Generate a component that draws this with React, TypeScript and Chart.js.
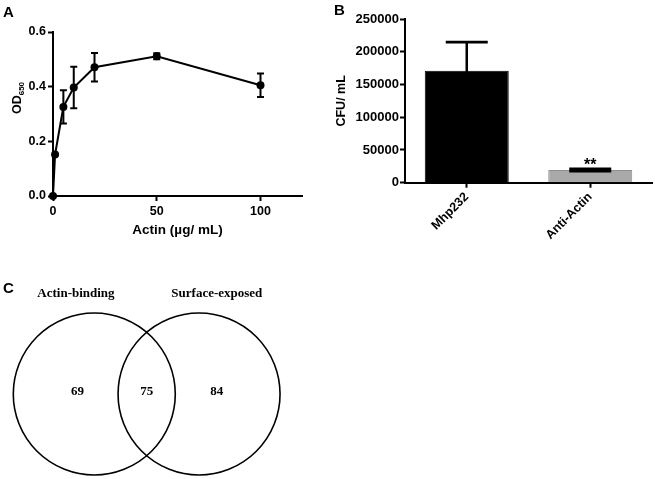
import React, { useEffect, useRef } from "react";
import { Chart, registerables } from "chart.js";

Chart.register(...registerables);

// ---------- Panel A data ----------
const actinConc = [0, 1, 5, 10, 20, 50, 100];
const od650Mean = [0, 0.152, 0.326, 0.397, 0.471, 0.511, 0.405];
const od650Err = [0, 0, 0.061, 0.076, 0.052, 0.011, 0.043];
const odTicks = [0, 0.2, 0.4, 0.6];
const concTicks = [0, 50, 100];

// ---------- Panel B data ----------
const strains = ["Mhp232", "Anti-Actin"];
const cfuMean = [171000, 19500];
const cfuErr = [43500, 1700];
const cfuTicks = [0, 50000, 100000, 150000, 200000, 250000];
const significance = ["", "**"];

// ---------- Panel C data ----------
const vennSets = ["Actin-binding", "Surface-exposed"];
const vennCounts = [69, 75, 84]; // only left, both, only right

const SANS = '"Liberation Sans", Arial, Helvetica, sans-serif';
const SERIF = '"Liberation Serif", "Times New Roman", Times, serif';

const W_A = 330, H_A = 270;
const W_B = 325, H_B = 280;
const W_C = 330, H_C = 209;

function panelLetter(letter: string, x: number, y: number) {
  return {
    id: "letter" + letter,
    afterDraw(chart: any) {
      const ctx = chart.ctx;
      ctx.save();
      ctx.fillStyle = "#000";
      ctx.font = `bold 15px ${SANS}`;
      ctx.textAlign = "left";
      ctx.textBaseline = "alphabetic";
      ctx.fillText(letter, x, y);
      ctx.restore();
    },
  };
}

const axisCommon = {
  grid: {
    display: true,
    drawOnChartArea: false,
    drawTicks: true,
    tickLength: 5,
    tickWidth: 2,
    tickColor: "#000",
  },
  border: { display: true, color: "#000", width: 2 },
};

export default function App() {
  const refA = useRef<HTMLCanvasElement>(null);
  const refB = useRef<HTMLCanvasElement>(null);
  const refC = useRef<HTMLCanvasElement>(null);

  useEffect(() => {
    const charts: Chart[] = [];

    // ---------------- Panel A ----------------
    const errorBarsA = {
      id: "errorBarsA",
      afterDatasetsDraw(chart: any) {
        const { ctx } = chart;
        const xs = chart.scales.x, ys = chart.scales.y;
        ctx.save();
        ctx.strokeStyle = "#000";
        ctx.lineWidth = 2;
        actinConc.forEach((c, i) => {
          const e = od650Err[i];
          if (!e) return;
          const px = xs.getPixelForValue(c);
          const yt = ys.getPixelForValue(od650Mean[i] + e);
          const yb = ys.getPixelForValue(od650Mean[i] - e);
          ctx.beginPath();
          ctx.moveTo(px, yt); ctx.lineTo(px, yb);
          ctx.moveTo(px - 3.5, yt); ctx.lineTo(px + 3.5, yt);
          ctx.moveTo(px - 3.5, yb); ctx.lineTo(px + 3.5, yb);
          ctx.stroke();
        });
        ctx.restore();
      },
    };
    const yTitleA = {
      id: "yTitleA",
      afterDraw(chart: any) {
        const { ctx, chartArea } = chart;
        ctx.save();
        ctx.fillStyle = "#000";
        ctx.translate(21, chartArea.top + 66);
        ctx.rotate(-Math.PI / 2);
        ctx.textAlign = "left";
        ctx.textBaseline = "alphabetic";
        ctx.font = `bold 12.5px ${SANS}`;
        const wOD = ctx.measureText("OD").width;
        ctx.font = `bold 8px ${SANS}`;
        const wSub = ctx.measureText("650").width;
        const start = -(wOD + wSub) / 2;
        ctx.font = `bold 12.5px ${SANS}`;
        ctx.fillText("OD", start, 0);
        ctx.font = `bold 8px ${SANS}`;
        ctx.fillText("650", start + wOD, 3);
        ctx.restore();
      },
    };

    if (refA.current) {
      charts.push(
        new Chart(refA.current, {
          type: "line",
          data: {
            datasets: [
              {
                data: actinConc.map((x, i) => ({ x, y: od650Mean[i] })),
                borderColor: "#000",
                backgroundColor: "#000",
                borderWidth: 2,
                pointRadius: 4,
                pointBackgroundColor: "#000",
                pointBorderColor: "#000",
                pointBorderWidth: 0,
                tension: 0,
                clip: false as any,
              },
            ],
          },
          options: {
            responsive: false,
            animation: false,
            events: [],
            layout: { autoPadding: false, padding: { top: 32, right: W_A - 302, left: 0, bottom: 0 } },
            plugins: { legend: { display: false }, tooltip: { enabled: false } },
            scales: {
              x: {
                type: "linear",
                min: 0,
                max: 120,
                afterBuildTicks: (s: any) => {
                  s.ticks = concTicks.map((v) => ({ value: v }));
                },
                afterFit: (s: any) => {
                  s.height = H_A - 196;
                },
                ...axisCommon,
                ticks: {
                  color: "#000",
                  font: { family: SANS, size: 12.5, weight: "bold" },
                  padding: 3,
                  maxRotation: 0,
                },
                title: {
                  display: true,
                  text: "Actin (µg/ mL)",
                  color: "#000",
                  font: { family: SANS, size: 13.5, weight: "bold" },
                  padding: { top: 0, bottom: 32 },
                },
              } as any,
              y: {
                type: "linear",
                min: 0,
                max: 0.6,
                afterBuildTicks: (s: any) => {
                  s.ticks = odTicks.map((v) => ({ value: v }));
                },
                afterFit: (s: any) => {
                  s.width = 53;
                },
                ...axisCommon,
                ticks: {
                  color: "#000",
                  font: { family: SANS, size: 12.5, weight: "bold" },
                  padding: 2,
                  callback: (v: any) => Number(v).toFixed(1),
                },
              } as any,
            },
          },
          plugins: [errorBarsA, yTitleA, panelLetter("A", 3, 16.5)],
        })
      );
    }

    // ---------------- Panel B ----------------
    const errorBarsB = {
      id: "errorBarsB",
      afterDatasetsDraw(chart: any) {
        const { ctx } = chart;
        const ys = chart.scales.y;
        const meta = chart.getDatasetMeta(0);
        ctx.save();
        ctx.strokeStyle = "#000";
        ctx.fillStyle = "#000";
        meta.data.forEach((bar: any, i: number) => {
          const px = bar.x;
          const yt = ys.getPixelForValue(cfuMean[i] + cfuErr[i]);
          const yb = ys.getPixelForValue(cfuMean[i] - cfuErr[i]);
          ctx.lineWidth = 2.5;
          ctx.beginPath();
          ctx.moveTo(px, yt); ctx.lineTo(px, yb);
          ctx.stroke();
          ctx.lineWidth = 2.75;
          ctx.beginPath();
          ctx.moveTo(px - 21, yt); ctx.lineTo(px + 21, yt);
          ctx.moveTo(px - 21, yb); ctx.lineTo(px + 21, yb);
          ctx.stroke();
          if (significance[i]) {
            ctx.font = `bold 16px ${SANS}`;
            ctx.textAlign = "center";
            ctx.textBaseline = "alphabetic";
            ctx.fillText(significance[i], px, yt + 1.5);
          }
        });
        ctx.restore();
      },
    };

    if (refB.current) {
      charts.push(
        new Chart(refB.current, {
          type: "bar",
          data: {
            labels: strains,
            datasets: [
              {
                data: cfuMean,
                backgroundColor: ["#000000", "#a9a9a9"],
                borderColor: ["#000000", "#8e8e8e"],
                borderWidth: 1,
                barPercentage: 0.68,
                categoryPercentage: 1,
              },
            ],
          },
          options: {
            responsive: false,
            animation: false,
            events: [],
            layout: { autoPadding: false, padding: { top: 19, right: 3, left: 0, bottom: 0 } },
            plugins: { legend: { display: false }, tooltip: { enabled: false } },
            scales: {
              x: {
                offset: true,
                afterFit: (s: any) => {
                  s.height = H_B - 182.7;
                },
                ...axisCommon,
                grid: { ...axisCommon.grid, offset: false },
                ticks: {
                  color: "#000",
                  font: { family: SANS, size: 12.5, weight: "bold" },
                  maxRotation: 45,
                  minRotation: 45,
                  padding: 2,
                },
              } as any,
              y: {
                type: "linear",
                min: 0,
                max: 250000,
                afterBuildTicks: (s: any) => {
                  s.ticks = cfuTicks.map((v) => ({ value: v }));
                },
                afterFit: (s: any) => {
                  s.width = 75;
                },
                ...axisCommon,
                ticks: {
                  color: "#000",
                  font: { family: SANS, size: 13, weight: "bold" },
                  padding: 1,
                  callback: (v: any) => String(v),
                },
                title: {
                  display: true,
                  text: "CFU/ mL",
                  color: "#000",
                  font: { family: SANS, size: 12.5, weight: "bold" },
                  padding: { top: 4.5, bottom: 0 },
                },
              } as any,
            },
          },
          plugins: [errorBarsB, panelLetter("B", 4, 15)],
        })
      );
    }

    // ---------------- Panel C ----------------
    const regionPos = [-0.16, 0.5, 1.17];
    const setTitlePos = [-0.175, 1.17];
    const vennLabels = {
      id: "vennLabels",
      afterDatasetsDraw(chart: any) {
        const { ctx } = chart;
        const xs = chart.scales.x, ys = chart.scales.y;
        const cy = ys.getPixelForValue(0);
        ctx.save();
        ctx.fillStyle = "#000";
        ctx.textAlign = "center";
        ctx.textBaseline = "alphabetic";
        ctx.font = `bold 13px ${SERIF}`;
        vennCounts.forEach((c, i) => {
          ctx.fillText(String(c), xs.getPixelForValue(regionPos[i]), cy + 0.5);
        });
        vennSets.forEach((t, i) => {
          ctx.fillText(t, xs.getPixelForValue(setTitlePos[i]), 27);
        });
        ctx.restore();
      },
    };

    if (refC.current) {
      charts.push(
        new Chart(refC.current, {
          type: "scatter",
          data: {
            datasets: [
              {
                data: vennSets.map((_, i) => ({ x: i, y: 0 })),
                pointRadius: 81,
                pointBackgroundColor: "rgba(0,0,0,0)",
                pointBorderColor: "#000",
                pointBorderWidth: 1.6,
                clip: false as any,
              },
            ],
          },
          options: {
            responsive: false,
            animation: false,
            events: [],
            layout: { autoPadding: false, padding: { top: 40, bottom: 1, left: 0, right: 0 } },
            plugins: { legend: { display: false }, tooltip: { enabled: false } },
            scales: {
              x: { type: "linear", display: false, min: -0.9, max: 2.25 },
              y: { type: "linear", display: false, min: -1, max: 1 },
            },
          },
          plugins: [vennLabels, panelLetter("C", 3, 23)],
        })
      );
    }

    return () => {
      charts.forEach((c) => c.destroy());
    };
  }, []);

  return (
    <div
      style={{
        position: "absolute",
        left: 0,
        top: 0,
        width: 655,
        height: 479,
        background: "#fff",
        overflow: "hidden",
      }}
    >
      <canvas
        ref={refA}
        width={W_A}
        height={H_A}
        style={{ position: "absolute", left: 0, top: 0, width: W_A, height: H_A }}
      />
      <canvas
        ref={refB}
        width={W_B}
        height={H_B}
        style={{ position: "absolute", left: 330, top: 0, width: W_B, height: H_B }}
      />
      <canvas
        ref={refC}
        width={W_C}
        height={H_C}
        style={{ position: "absolute", left: 0, top: 270, width: W_C, height: H_C }}
      />
    </div>
  );
}
